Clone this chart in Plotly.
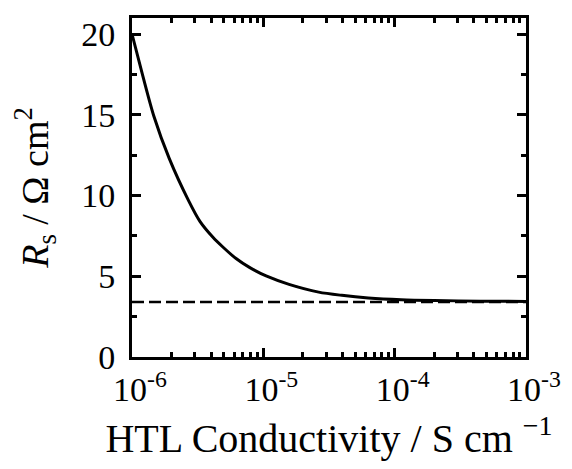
import plotly.graph_objects as go

# Data
conductivity = [1.0e-6, 1.21e-6, 1.47e-6, 1.92e-6, 2.69e-6, 3.29e-6, 4.15e-6,
                4.94e-6, 6.2e-6, 7.84e-6, 1.05e-5, 1.57e-5, 2.64e-5, 3.96e-5,
                6.3e-5, 1.12e-4, 2.0e-4, 4.5e-4, 1.0e-3]
rs_values = [20.0, 17.4, 14.9, 12.3, 9.7, 8.4, 7.4,
             6.8, 6.1, 5.55, 5.02, 4.5, 4.02, 3.82,
             3.66, 3.55, 3.5, 3.46, 3.44]
baseline_x = [1.0e-6, 1.0e-3]
baseline_y = [3.4, 3.4]

x_tickvals = [1e-6, 1e-5, 1e-4, 1e-3]
x_ticktext = ["10<sup>-6</sup>", "10<sup>-5</sup>", "10<sup>-4</sup>", "10<sup>-3</sup>"]
x_minor = [m * 10.0 ** e for e in (-6, -5, -4) for m in range(2, 10)]
y_tickvals = [0, 5, 10, 15, 20]

font_family = "Liberation Serif, Times New Roman, serif"

fig = go.Figure()
fig.add_trace(go.Scatter(x=baseline_x, y=baseline_y, mode="lines",
                         line=dict(color="black", width=2.5, dash="12px,5px"),
                         showlegend=False))
fig.add_trace(go.Scatter(x=conductivity, y=rs_values, mode="lines",
                         line=dict(color="black", width=3, shape="spline", smoothing=0.8),
                         showlegend=False))

common = dict(ticks="inside", ticklen=9, tickwidth=3, tickcolor="black",
              showline=True, linewidth=3, linecolor="black", mirror="allticks",
              showgrid=False, zeroline=False, automargin=False)

fig.update_layout(
    template="none",
    width=572, height=469,
    margin=dict(l=124, r=54, t=10, b=120),
    paper_bgcolor="white", plot_bgcolor="white",
    font=dict(family=font_family, color="black", size=34),
    xaxis=dict(type="log", range=[-6, -3],
               tickvals=x_tickvals, ticktext=x_ticktext,
               minor=dict(tickvals=x_minor, ticks="inside", ticklen=5, tickwidth=3, tickcolor="black"),
               tickfont=dict(size=34), ticklabelshift=8,
               title=dict(text="HTL Conductivity / S cm <sup>\u22121</sup>", font=dict(size=40), standoff=18),
               **common),
    yaxis=dict(range=[0, 21], tickvals=y_tickvals,
               minor=dict(dtick=2.5, ticks="inside", ticklen=5, tickwidth=3, tickcolor="black"),
               tickfont=dict(size=34), ticklabelstandoff=7,
               title=dict(text="<i>R</i><sub>s</sub> / \u03a9 cm<sup>2</sup>", font=dict(size=38), standoff=22),
               **common),
)

fig.write_html("out.html")
